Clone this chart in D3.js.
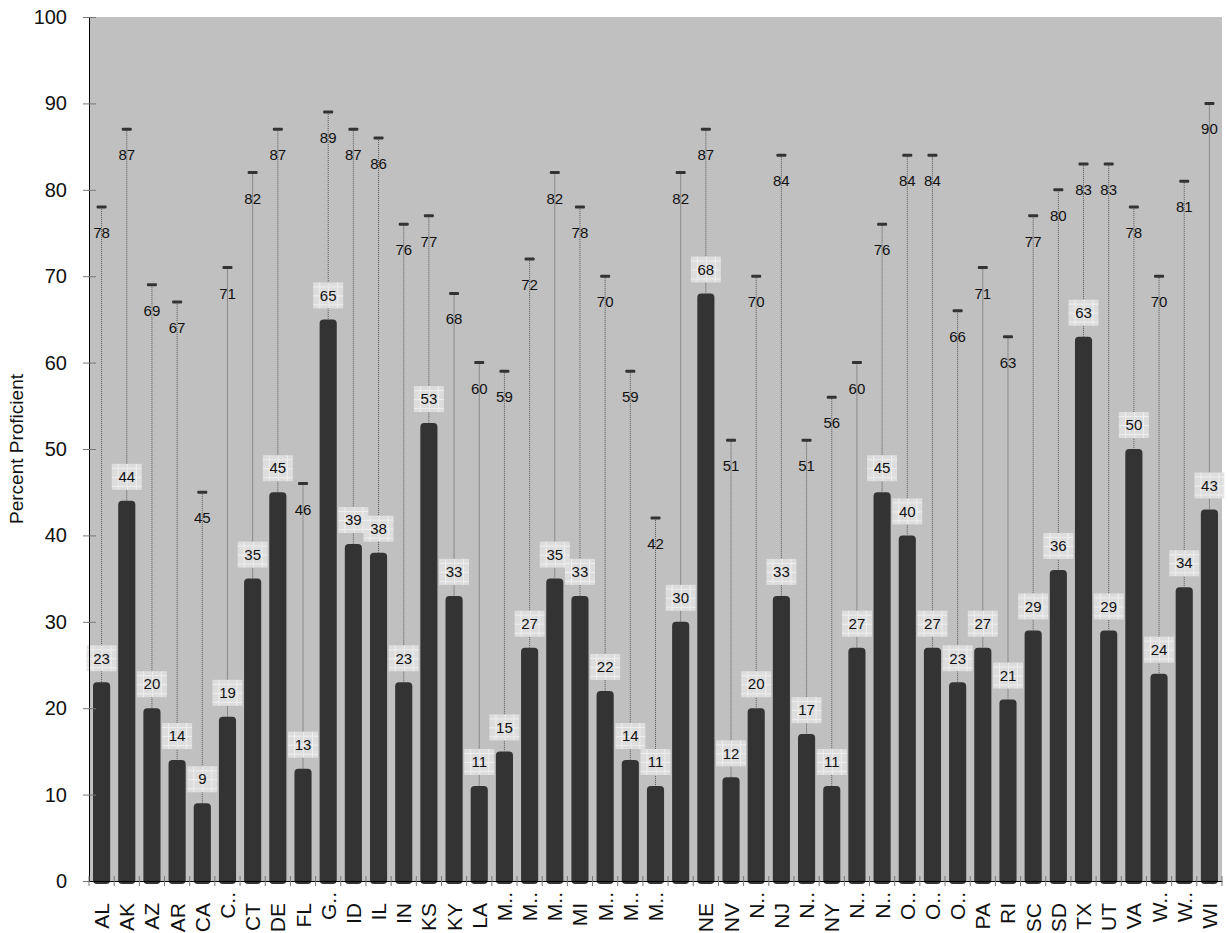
<!DOCTYPE html>
<html lang="en">
<head>
    <meta charset="UTF-8" />
    <title>Percent Proficient by State</title>
    <script src="https://d3js.org/d3.v7.min.js"></script>
    <style>
        body { margin: 0; background: #ffffff; font-family: Arial, "Liberation Sans", sans-serif; }
    </style>
</head>
<body>
    <div id="chart"></div>
    <script>
        const states = ["AL", "AK", "AZ", "AR", "CA", "C..", "CT", "DE", "FL", "G..", "ID", "IL", "IN", "KS", "KY",
            "LA", "M..", "M..", "M..", "MI", "M..", "M..", "M..", "", "NE", "NV", "N..", "NJ", "N..", "NY",
            "N..", "N..", "O..", "O..", "O..", "PA", "RI", "SC", "SD", "TX", "UT", "VA", "W..", "W..", "WI"];
        const proficient = [23, 44, 20, 14, 9, 19, 35, 45, 13, 65, 39, 38, 23, 53, 33,
            11, 15, 27, 35, 33, 22, 14, 11, 30, 68, 12, 20, 33, 17, 11,
            27, 45, 40, 27, 23, 27, 21, 29, 36, 63, 29, 50, 24, 34, 43];
        const highest = [78, 87, 69, 67, 45, 71, 82, 87, 46, 89, 87, 86, 76, 77, 68,
            60, 59, 72, 82, 78, 70, 59, 42, 82, 87, 51, 70, 84, 51, 56,
            60, 76, 84, 84, 66, 71, 63, 77, 80, 83, 83, 78, 70, 81, 90];
        const yTicks = [0, 10, 20, 30, 40, 50, 60, 70, 80, 90, 100];

        const width = 1228, height = 933;
        const margin = { top: 17, right: 6, bottom: 52, left: 89 };
        const innerW = width - margin.left - margin.right;
        const innerH = height - margin.top - margin.bottom;

        const data = states.map((s, i) => ({ key: i, label: s, value: proficient[i], max: highest[i] }));

        const svg = d3.select("#chart").append("svg")
            .attr("width", width)
            .attr("height", height);

        // light grid fill used behind the value labels
        const defs = svg.append("defs");
        const pat = defs.append("pattern")
            .attr("id", "grid")
            .attr("width", 9).attr("height", 9)
            .attr("patternUnits", "userSpaceOnUse");
        pat.append("rect").attr("width", 9).attr("height", 9).attr("fill", "#e0e0e0");
        pat.append("path").attr("d", "M0 0.5H9M0.5 0V9")
            .attr("stroke", "#f4f4f4").attr("stroke-width", 1);

        const g = svg.append("g").attr("transform", `translate(${margin.left},${margin.top})`);

        const x = d3.scaleBand().domain(data.map(d => d.key)).range([0, innerW]).padding(0);
        const y = d3.scaleLinear().domain([0, 100]).range([innerH, 0]);

        // plot background
        g.append("rect")
            .attr("width", innerW).attr("height", innerH)
            .attr("fill", "#c0c0c0");

        const barW = x.bandwidth() * 0.68;
        const cx = d => x(d.key) + x.bandwidth() / 2;

        // dotted range lines
        g.selectAll(".range").data(data).join("line")
            .attr("x1", cx).attr("x2", cx)
            .attr("y1", d => y(d.max)).attr("y2", d => y(d.value))
            .attr("stroke", "#555")
            .attr("stroke-width", 1)
            .attr("stroke-dasharray", "1,1");

        // bars
        g.selectAll(".bar").data(data).join("rect")
            .attr("x", d => cx(d) - barW / 2)
            .attr("y", d => y(d.value))
            .attr("width", barW)
            .attr("height", d => innerH - y(d.value) + 3)
            .attr("rx", 4)
            .attr("fill", "#333333");

        // max markers
        g.selectAll(".maxmark").data(data).join("rect")
            .attr("x", d => cx(d) - 5)
            .attr("y", d => y(d.max) - 1.5)
            .attr("width", 10).attr("height", 3)
            .attr("rx", 1)
            .attr("fill", "#333333");

        g.selectAll(".maxlabel").data(data).join("text")
            .attr("x", cx)
            .attr("y", d => y(d.max) + 31)
            .attr("text-anchor", "middle")
            .attr("font-size", 15)
            .attr("fill", "#111")
            .text(d => d.max);

        // value label boxes
        const vl = g.selectAll(".vlabel").data(data).join("g")
            .attr("transform", d => `translate(${cx(d)},${y(d.value) - 24})`);
        vl.append("rect")
            .attr("x", -15).attr("y", -13)
            .attr("width", 30).attr("height", 26)
            .attr("fill", "url(#grid)")
            .attr("opacity", 0.9);
        vl.append("text")
            .attr("text-anchor", "middle")
            .attr("dy", "0.35em")
            .attr("font-size", 15)
            .attr("fill", "#111")
            .text(d => d.value);

        // y axis
        const yAxis = g.append("g")
            .call(d3.axisLeft(y).tickValues(yTicks).tickSize(0).tickPadding(22));
        yAxis.select(".domain").attr("stroke", "#000");
        yAxis.selectAll("text").attr("font-size", 20).attr("font-family", "Arial, 'Liberation Sans', sans-serif").attr("fill", "#111");
        yAxis.selectAll(".tick").append("line")
            .attr("x1", -6).attr("x2", 7)
            .attr("stroke", "#777");

        // x axis
        const xAxis = g.append("g")
            .attr("transform", `translate(0,${innerH})`)
            .call(d3.axisBottom(x).tickSize(0).tickFormat(""));
        xAxis.select(".domain").attr("stroke", "#000");
        const bounds = d3.range(data.length + 1).map(i => i * x.bandwidth());
        xAxis.selectAll(".bound").data(bounds).join("line")
            .attr("x1", d => d).attr("x2", d => d)
            .attr("y1", -5).attr("y2", 5)
            .attr("stroke", "#777");

        // truncated labels sit a little higher than full ones
        g.selectAll(".xlabel").data(data).join("text")
            .attr("transform", d => `translate(${cx(d) + 7.5},${innerH + (d.label.endsWith("..") ? 11 : 22)}) rotate(-90)`)
            .attr("text-anchor", "end")
            .attr("font-size", 21)
            .attr("fill", "#111")
            .text(d => d.label);

        // y axis title
        svg.append("text")
            .attr("transform", `translate(23,${margin.top + innerH / 2}) rotate(-90)`)
            .attr("text-anchor", "middle")
            .attr("font-size", 19)
            .attr("fill", "#111")
            .text("Percent Proficient");
    </script>
</body>
</html>
